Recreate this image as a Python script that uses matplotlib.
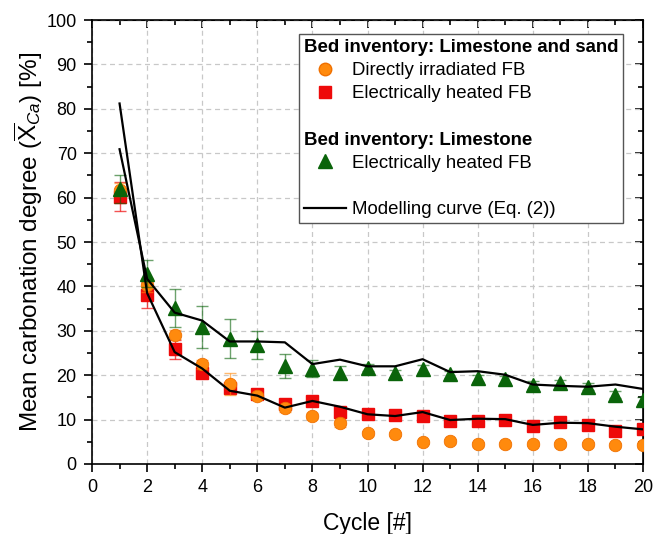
import numpy as np
import matplotlib
matplotlib.use('Agg')
import matplotlib.pyplot as plt
from matplotlib.lines import Line2D
from matplotlib.ticker import MultipleLocator

plt.rcParams['font.family'] = ['Liberation Sans', 'DejaVu Sans']
plt.rcParams['mathtext.fontset'] = 'custom'
plt.rcParams['mathtext.rm'] = 'Liberation Sans'
plt.rcParams['mathtext.it'] = 'Liberation Sans:italic'

# data
cycles = np.arange(1, 21)
direct_fb = [61.8, 40.3, 29.1, 22.5, 18.0, 15.3, 12.5, 10.8, 9.2, 6.9,
             6.8, 5.0, 5.1, 4.4, 4.4, 4.6, 4.4, 4.4, 4.2, 4.2]
direct_err = [1.5, 1.5, 1.0, 1.0, 2.4, 0.7, 0.7, 0.6, 0.8, 0.6,
              0.5, 0.5, 0.5, 0.5, 0.5, 0.5, 0.5, 0.5, 0.5, 0.5]
elec_sand = [60.2, 38.0, 25.8, 20.5, 17.2, 15.7, 13.6, 14.2, 11.7, 11.2,
             11.1, 10.8, 9.7, 9.7, 9.9, 8.6, 9.5, 8.8, 7.4, 7.8]
elec_sand_err = [3.3, 2.9, 2.2, 1.0, 1.0, 0.8, 0.8, 0.8, 1.0, 0.8,
                 0.8, 0.8, 1.2, 0.8, 0.8, 0.8, 0.8, 0.8, 1.2, 0.8]
elec_lime = [61.9, 42.9, 35.1, 30.9, 28.2, 26.8, 22.1, 21.5, 20.6, 21.7,
             20.4, 21.4, 20.2, 19.3, 19.1, 17.8, 18.2, 17.4, 15.6, 14.4]
elec_lime_err = [3.2, 3.0, 4.3, 4.7, 4.4, 3.2, 2.7, 2.0, 1.5, 0.8,
                 0.8, 0.8, 0.8, 0.8, 0.8, 0.8, 0.8, 0.8, 0.8, 0.8]
model_sand = [81.2, 38.5, 25.2, 21.5, 16.5, 15.4, 12.7, 14.2, 12.9, 11.2,
              10.8, 11.7, 9.9, 10.2, 10.1, 8.8, 9.3, 9.2, 8.4, 7.8]
model_lime = [70.9, 41.7, 34.1, 32.3, 27.6, 27.6, 27.4, 22.5, 23.5, 22.0,
              22.0, 23.6, 20.7, 20.9, 20.1, 17.9, 17.6, 17.4, 17.9, 16.9]

c_orange = '#FF8A0D'
c_red = '#EE0A0A'
c_green = '#0A640A'

fig = plt.figure(figsize=(6.54, 5.34), dpi=100)
ax = fig.add_axes([0.1407, 0.1311, 0.8425, 0.8314])

ax.errorbar(cycles, elec_sand, yerr=elec_sand_err, fmt='none', ecolor=c_red,
            alpha=0.7, elinewidth=1, capsize=4, capthick=1, zorder=3)
ax.plot(cycles, elec_sand, 's', color=c_red, ms=8, mec=c_red, zorder=4)
ax.errorbar(cycles, direct_fb, yerr=direct_err, fmt='none', ecolor=c_orange,
            alpha=0.6, elinewidth=1, capsize=4, capthick=1, zorder=5)
ax.plot(cycles, direct_fb, 'o', color=c_orange, ms=9, mec='#F07000', mew=0.6, zorder=6)
ax.errorbar(cycles, elec_lime, yerr=elec_lime_err, fmt='none', ecolor=c_green,
            alpha=0.6, elinewidth=1, capsize=4, capthick=1, zorder=7)
ax.plot(cycles, elec_lime, '^', color=c_green, ms=10, mec=c_green, zorder=8)
ax.plot(cycles, model_sand, '-', color='black', lw=1.6, zorder=9)
ax.plot(cycles, model_lime, '-', color='black', lw=1.6, zorder=9)

ax.set_xlim(0, 20)
ax.set_ylim(0, 100)
ax.xaxis.set_major_locator(MultipleLocator(2))
ax.xaxis.set_minor_locator(MultipleLocator(1))
ax.yaxis.set_major_locator(MultipleLocator(10))
ax.yaxis.set_minor_locator(MultipleLocator(5))
ax.tick_params(which='major', direction='out', length=6, width=1.2, labelsize=13, pad=5)
ax.tick_params(which='minor', direction='out', length=3.5, width=1.2)
ax.grid(True, which='major', linestyle=(0, (4, 3)), color='#c8c8c8', lw=0.9)
for s in ax.spines.values():
    s.set_linewidth(1.2)

top = ax.secondary_xaxis('top')
top.xaxis.set_major_locator(MultipleLocator(2))
top.xaxis.set_minor_locator(MultipleLocator(1))
top.tick_params(which='major', direction='in', length=6, width=1.2, labeltop=False)
top.tick_params(which='minor', direction='in', length=3.5, width=1.2)
right = ax.secondary_yaxis('right')
right.yaxis.set_major_locator(MultipleLocator(10))
right.yaxis.set_minor_locator(MultipleLocator(5))
right.tick_params(which='major', direction='in', length=6, width=1.2, labelright=False)
right.tick_params(which='minor', direction='in', length=3.5, width=1.2)

ax.set_xlabel('Cycle [#]', fontsize=16.5, labelpad=11)
ax.set_ylabel(r'Mean carbonation degree ($\overline{\mathrm{X}}_{Ca}$) [%]', fontsize=17.5, labelpad=1)

# legend with bold section headers
blank = Line2D([], [], linestyle='none', marker=None)
handles = [
    blank,
    Line2D([], [], linestyle='none', marker='o', color=c_orange, mec='#F07000', ms=9),
    Line2D([], [], linestyle='none', marker='s', color=c_red, ms=8),
    blank,
    blank,
    Line2D([], [], linestyle='none', marker='^', color=c_green, ms=10),
    blank,
    Line2D([], [], color='black', lw=1.6),
]
labels = ['Bed inventory: Limestone and sand', 'Directly irradiated FB',
          'Electrically heated FB', ' ', 'Bed inventory: Limestone',
          'Electrically heated FB', ' ', 'Modelling curve (Eq. (2))']
headers = [0, 4]
leg = ax.legend(handles, labels, loc='upper right', bbox_to_anchor=(0.9637, 0.968),
                borderaxespad=0, fontsize=13.4, handlelength=2.26, handletextpad=0.32,
                labelspacing=0.33, borderpad=0.25, fancybox=False, framealpha=1,
                edgecolor='#555555')
leg.get_frame().set_linewidth(1.0)
leg.set_zorder(20)
rows = leg._legend_handle_box.get_children()[0].get_children()
for i in headers:
    leg.get_texts()[i].set_fontweight('bold')
    rows[i].get_children()[0].set_width(0)
    rows[i].sep = 0

fig.savefig('out.png', dpi=100)
